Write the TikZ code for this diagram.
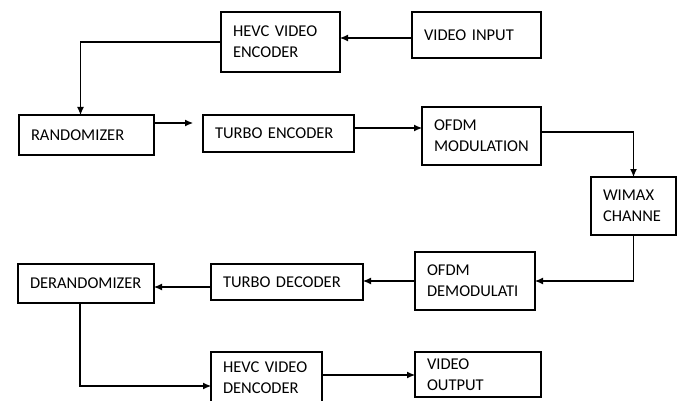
\documentclass[tikz,border=0pt]{standalone}
\usepackage{fontspec}
\setmainfont{Carlito}
\usetikzlibrary{arrows.meta}

\begin{document}
\begin{tikzpicture}[x=1pt, y=-1pt, line width=1.1pt,
        blk/.style={draw, rectangle, anchor=north west, inner xsep=12pt, inner ysep=0pt, outer sep=0pt, align=left, font=\fontsize{16.5}{21}\selectfont},
        arr/.style={draw, -{Latex[length=8pt, width=7pt]}}]
        \clip (0,0) rectangle (682,401);
        %nodes
        \node[blk, minimum width=119pt, text width=95pt, minimum height=60pt] (hevcenc) at (221,12) {HEVC VIDEO\\ENCODER};
        \node[blk, minimum width=129pt, text width=105pt, minimum height=46pt] (vidin) at (412,12) {VIDEO INPUT\\[2pt]};
        \node[blk, minimum width=135pt, text width=111pt, minimum height=40pt] (rand) at (19,115) {RANDOMIZER};
        \node[blk, minimum width=151pt, text width=127pt, minimum height=37pt] (turboenc) at (203,115) {TURBO ENCODER};
        \node[blk, minimum width=119pt, text width=95pt, minimum height=58pt] (ofdmmod) at (422,107) {OFDM\\MODULATION};
        \node[blk, minimum width=85pt, text width=61pt, minimum height=58pt] (wimax) at (591,177) {WIMAX\\CHANNE};
        \node[blk, minimum width=120pt, text width=96pt, minimum height=58pt] (ofdmdemod) at (415,252) {OFDM\\DEMODULATI};
        \node[blk, minimum width=152pt, text width=128pt, minimum height=36pt] (turbodec) at (211,264) {TURBO DECODER};
        \node[blk, minimum width=136pt, text width=112pt, minimum height=39pt] (derand) at (18,264) {DERANDOMIZER};
        \node[blk, minimum width=111pt, text width=87pt, minimum height=52pt] (hevcdec) at (211,352) {HEVC VIDEO\\DENCODER};
        \node[blk, minimum width=126pt, text width=102pt, minimum height=45pt] (vidout) at (415,352) {VIDEO\\OUTPUT};
        %edges
        \path [arr] ([yshift=-3pt]vidin.west) -- ([yshift=-3pt]vidin.west -| hevcenc.east);
        \path [arr] (hevcenc.west) -| ([xshift=-6pt]rand.north);
        \path [arr,shorten >=10pt] ([yshift=12pt]rand.east) -- ([yshift=10.5pt]turboenc.west);
        \path [arr] ([yshift=5.5pt]turboenc.east) -- ([yshift=8pt]ofdmmod.west);
        \path [arr] ([yshift=4pt]ofdmmod.east) -| (wimax.north);
        \path [arr] (wimax.south) |- (ofdmdemod.east);
        \path [arr] (ofdmdemod.west) -- (ofdmdemod.west -| turbodec.east);
        \path [arr] ([yshift=-5pt]turbodec.west) -- ([yshift=-3.5pt]derand.east);
        \path [arr] ([xshift=-6pt]derand.south) |- ([yshift=-8pt]hevcdec.west);
        \path [arr] ([yshift=3pt]hevcdec.east) -- ([yshift=-0.5pt]vidout.west);
      \end{tikzpicture}
\end{document}
